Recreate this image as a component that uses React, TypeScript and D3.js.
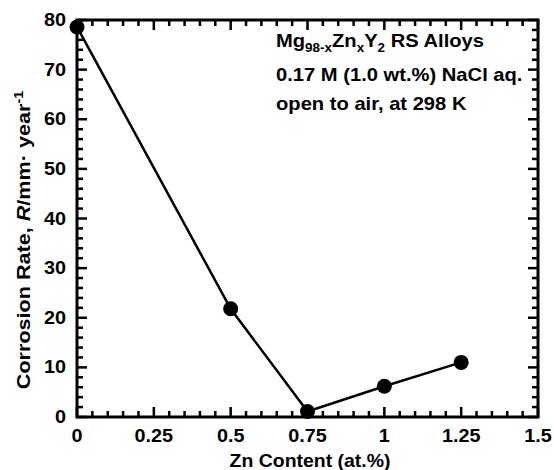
import React from "react";
import * as d3 from "d3";

const znContent = [0, 0.5, 0.75, 1, 1.25];
const corrosionRate = [78.6, 21.8, 1.1, 6.2, 11.0];
const xTicks = [0, 0.25, 0.5, 0.75, 1, 1.25, 1.5];
const xTickLabels = ["0", "0.25", "0.5", "0.75", "1", "1.25", "1.5"];
const yTicks = [0, 10, 20, 30, 40, 50, 60, 70, 80];

const width = 554;
const height = 470;
const margin = { top: 20, right: 16, bottom: 53, left: 77 };
const font = "'Liberation Sans', Arial, sans-serif";

const App = () => {
  const x = d3.scaleLinear().domain([0, 1.5]).range([margin.left, width - margin.right]);
  const y = d3.scaleLinear().domain([0, 80]).range([height - margin.bottom, margin.top]);
  const [x0, x1] = x.range();
  const [y0, y1] = y.range();
  // minor ticks every 0.05 and every 2 units
  const xMinor = d3.range(0, 31).map((i) => i * 0.05);
  const yMinor = d3.range(0, 41).map((i) => i * 2);

  const line = d3
    .line<number>()
    .x((d, i) => x(znContent[i]))
    .y((d) => y(d));

  const txt = { fontFamily: font, fontWeight: "bold" as const, fontSize: 18, fill: "#000" };
  const sub = { fontSize: 12, dy: 5 };

  return (
    <svg
      width={width}
      height={height}
      style={{ position: "absolute", left: 0, top: 0, background: "#fff" }}
    >
      {xMinor.map((v, i) => {
        const len = i % 5 === 0 ? 10 : 6;
        return (
          <g key={"x" + i} stroke="#000" strokeWidth={2.5}>
            <line x1={x(v)} x2={x(v)} y1={y0} y2={y0 - len} />
            <line x1={x(v)} x2={x(v)} y1={y1} y2={y1 + len} />
          </g>
        );
      })}
      {yMinor.map((v, i) => {
        const len = i % 5 === 0 ? 10 : 6;
        return (
          <g key={"y" + i} stroke="#000" strokeWidth={2.5}>
            <line y1={y(v)} y2={y(v)} x1={x0} x2={x0 + len} />
            <line y1={y(v)} y2={y(v)} x1={x1} x2={x1 - len} />
          </g>
        );
      })}
      <rect x={x0} y={y1} width={x1 - x0} height={y0 - y1} fill="none" stroke="#000" strokeWidth={3} />

      {xTicks.map((v, i) => (
        <g key={"xl" + i} transform={`translate(${x(v)},${y0 + 25}) scale(1.1,1)`}>
          <text textAnchor="middle" {...txt}>{xTickLabels[i]}</text>
        </g>
      ))}
      {yTicks.map((v) => (
        <g key={"yl" + v} transform={`translate(${x0 - 11},${y(v) + 6}) scale(1.1,1)`}>
          <text textAnchor="end" {...txt}>{v}</text>
        </g>
      ))}

      <g transform={`translate(310,467) scale(1.08,1)`}>
        <text textAnchor="middle" {...txt}>Zn Content (at.%)</text>
      </g>
      <g transform={`translate(30,240) rotate(-90) scale(1.2,1)`}>
        <text textAnchor="middle" {...txt}>
          Corrosion Rate, <tspan fontStyle="italic">R</tspan>/mm{"\u00b7"} year
          <tspan fontSize={12} dy={-7}>-1</tspan>
        </text>
      </g>

      <path d={line(corrosionRate) || ""} fill="none" stroke="#000" strokeWidth={2.5} />
      {corrosionRate.map((d, i) => (
        <circle key={i} cx={x(znContent[i])} cy={y(d)} r={7.5} fill="#000" />
      ))}

      <g transform="translate(276,47) scale(1.12,1)">
        <text {...txt}>
          Mg<tspan {...sub}>98-x</tspan>
          <tspan dy={-5}>Zn</tspan>
          <tspan {...sub}>x</tspan>
          <tspan dy={-5}>Y</tspan>
          <tspan {...sub}>2</tspan>
          <tspan dy={-5}> RS Alloys</tspan>
        </text>
      </g>
      <g transform="translate(276,81) scale(1.12,1)">
        <text {...txt}>0.17 M (1.0 wt.%) NaCl aq.</text>
      </g>
      <g transform="translate(276,110) scale(1.12,1)">
        <text {...txt}>open to air, at 298 K</text>
      </g>
    </svg>
  );
};

export default App;
